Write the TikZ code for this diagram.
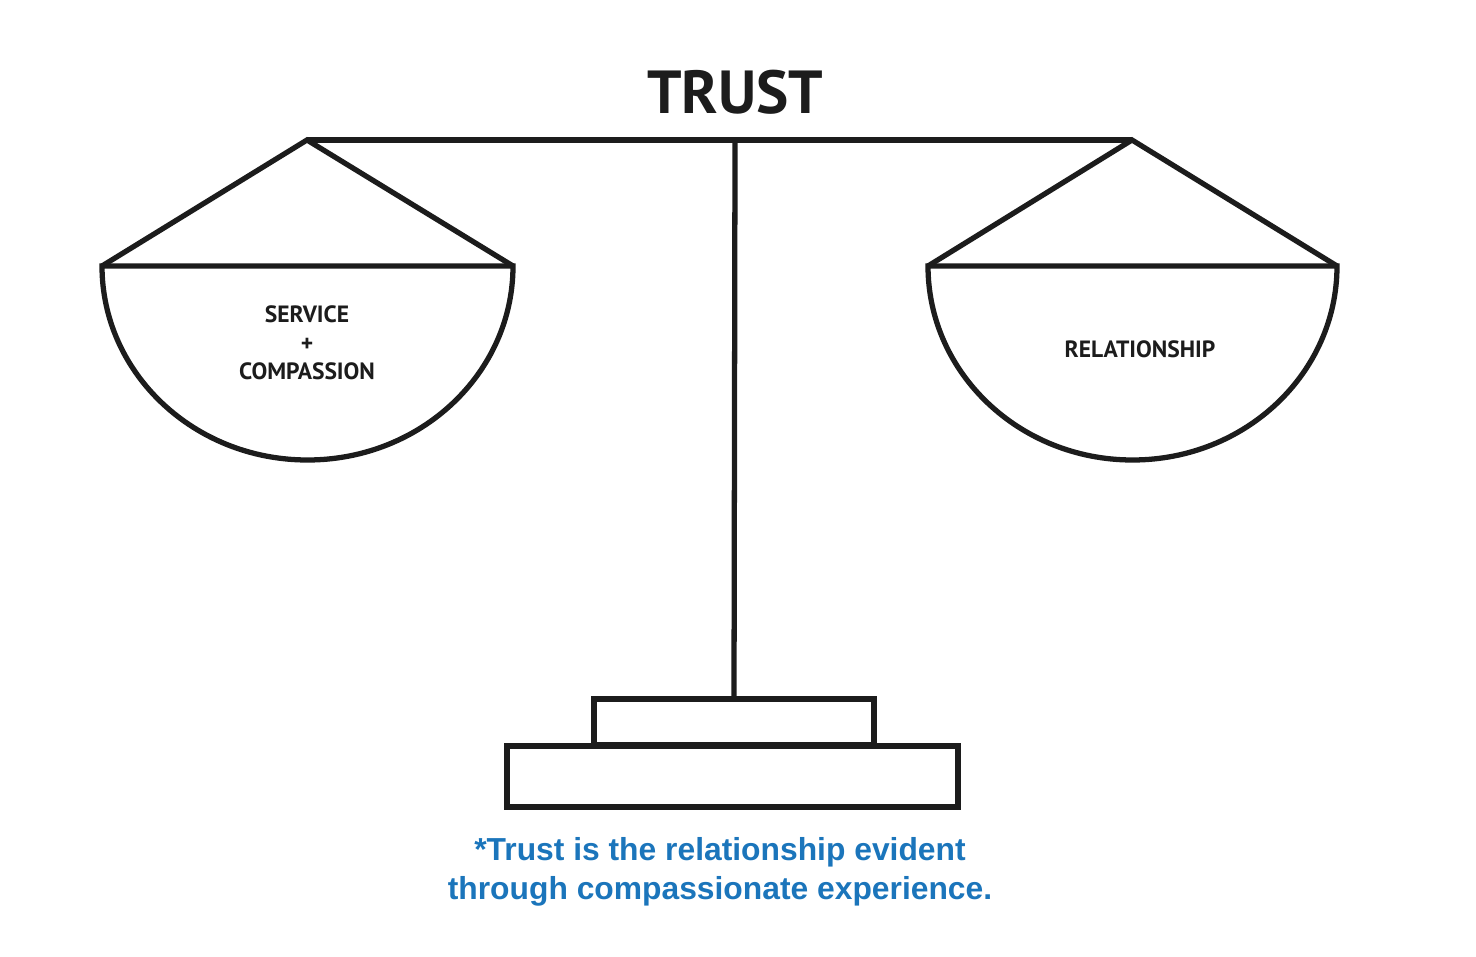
\documentclass[tikz,border=0pt]{standalone}
\usepackage{fontspec}
\setmainfont{Liberation Sans}
\newfontfamily\scalefont{PT Sans}
\usetikzlibrary{positioning}
\definecolor{mink}{HTML}{1C1C1C}
\definecolor{mblue}{HTML}{1B75BB}
\tikzstyle{bar} = [line width=1.5pt, draw=mink]
\tikzstyle{title} = [font=\scalefont\bfseries\fontsize{17.3}{20}\selectfont, text=mink, inner sep=0pt]
\tikzstyle{panlabel} = [font=\scalefont\bfseries\fontsize{6.7}{8.1}\selectfont, text=mink, align=center, inner sep=0pt]
\tikzstyle{note} = [font=\bfseries\fontsize{9.05}{11.1}\selectfont, text=mblue, align=center, inner sep=0pt]
\begin{document}
\begin{tikzpicture}
  \useasboundingbox (0,0) rectangle (14.76,-9.56);
  % hooks of the beam
  \coordinate (lefthook) at (3.07,-1.40);
  \coordinate (righthook) at (11.32,-1.40);
  \coordinate (pivot) at (7.35,-1.40);
  \node (trust) [title] at (7.35,-0.92) {TRUST};
  \draw [bar] (lefthook) -- (righthook);
  % left pan
  \coordinate (leftpanL) at (1.02,-2.66);
  \coordinate (leftpanR) at (5.13,-2.66);
  \draw [bar] (leftpanL) -- (lefthook) -- (leftpanR);
  \draw [bar] (leftpanR) arc[start angle=0, end angle=-180, x radius=2.055, y radius=1.94] -- cycle;
  \node (service) [panlabel] at (3.07,-3.43) {SERVICE\\+\\COMPASSION};
  % right pan
  \coordinate (rightpanL) at (9.28,-2.66);
  \coordinate (rightpanR) at (13.37,-2.66);
  \draw [bar] (rightpanL) -- (righthook) -- (rightpanR);
  \draw [bar] (rightpanR) arc[start angle=0, end angle=-180, x radius=2.045, y radius=1.94] -- cycle;
  \node (relation) [panlabel] at (11.40,-3.49) {RELATIONSHIP};
  % stand
  \node (riser) [bar, rectangle, minimum width=2.80cm, minimum height=0.46cm, inner sep=0pt] at (7.34,-7.22) {};
  \node (foot) [bar, rectangle, minimum width=4.51cm, minimum height=0.61cm, inner sep=0pt] at (7.325,-7.765) {};
  \draw [bar] (pivot) -- (riser.north);
  \node (caption) [note] at (7.20,-8.715) {*Trust is the relationship evident\\through compassionate experience.};
\end{tikzpicture}
\end{document}
